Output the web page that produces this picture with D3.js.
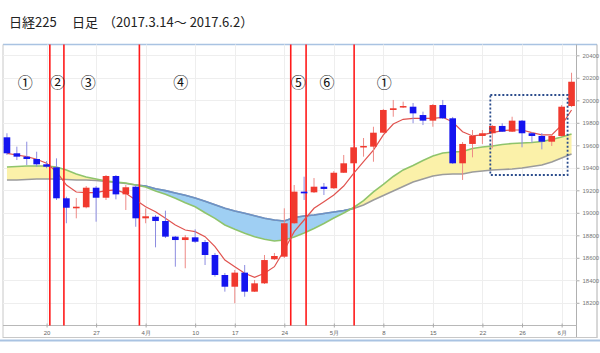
<!DOCTYPE html>
<html>
<head>
<meta charset="utf-8">
<script src="https://cdn.jsdelivr.net/npm/d3@7"></script>
<style>
  body { margin: 0; background: #fff; }
  svg { display: block; font-family: "Noto Sans CJK JP", "Noto Sans", sans-serif; }
</style>
</head>
<body>
<div id="chart"></div>
<script>
var chart_width = 600;
var chart_height = 353;

// daily candles, left to right
var opens  = [19671,19529,19499,19478,19431,19404,19129,19040,19049,19223,19134,19327,19164,19232,18951,18965,18927,18788,18758,18782,
              18740,18625,18447,18343,18468,18299,18373,18587,18610,18907,19188,19182,19232,19218,19356,19440,19582,19588,19712,19914,
              19938,19943,19869,19819,19958,19840,19440,19612,19683,19707,19772,19721,19819,19707,19683,19632,19683,19949];
var highs  = [19707,19588,19632,19543,19460,19484,19143,19132,19238,19238,19336,19336,19247,19247,19040,18980,19019,18794,18803,18853,
              18758,18643,18465,18492,18536,18403,18625,18643,19040,19247,19321,19309,19265,19371,19514,19620,19665,19765,19923,20003,
              19988,19976,19899,19967,20003,19852,19629,19736,19736,19780,19796,19854,19825,19718,19709,19700,19958,20245];
var lows   = [19514,19469,19425,19410,19396,19114,18907,18951,19040,18921,19114,19120,19025,18876,18907,18693,18776,18521,18507,18732,
              18536,18432,18299,18196,18254,18296,18367,18580,18598,18900,19114,19176,19158,19212,19354,19434,19499,19454,19709,19854,
              19932,19796,19780,19765,19834,19434,19292,19493,19612,19573,19718,19718,19582,19623,19564,19594,19674,19940];
var closes = [19529,19499,19478,19431,19410,19129,19045,19054,19223,19134,19327,19164,19227,18951,18969,18927,18788,18758,18782,18743,
              18625,18447,18343,18468,18299,18373,18580,18616,18907,19188,19173,19232,19212,19356,19440,19582,19594,19712,19914,19929,
              19949,19884,19819,19958,19840,19440,19612,19683,19707,19772,19721,19819,19707,19683,19632,19683,19943,20165];

// short average (red), middle (green), long (gray)
var maShort = [19529,19514,19499,19476,19440,19365,19247,19185,19179,19179,19197,19203,19173,19114,19054,19010,18951,18892,18847,18832,
               18788,18699,18580,18521,18462,18427,18462,18521,18669,18832,18936,19040,19099,19158,19238,19351,19454,19558,19692,19789,
               19831,19840,19840,19840,19849,19807,19721,19683,19692,19712,19730,19736,19736,19712,19692,19692,19780,19914];
var maMid   = [19407,19412,19416,19416,19416,19407,19381,19345,19318,19301,19283,19274,19265,19247,19229,19194,19165,19129,19090,19054,
               19001,18951,18892,18853,18818,18788,18765,18749,18758,18785,18820,18860,18905,18954,18998,19047,19109,19185,19252,19323,
               19381,19420,19465,19505,19532,19540,19545,19572,19585,19594,19607,19616,19620,19625,19634,19652,19674,19700];
var maLong  = [19292,19292,19296,19301,19301,19301,19296,19292,19292,19287,19278,19269,19260,19247,19238,19214,19197,19176,19156,19132,
               19102,19072,19040,19016,18996,18974,18951,18936,18927,18958,18972,18981,18994,19007,19021,19038,19069,19114,19154,19194,
               19234,19274,19301,19327,19341,19345,19345,19363,19372,19381,19385,19389,19398,19412,19425,19452,19487,19523];

var tickIndex  = [4, 9, 14, 19, 23, 28, 33, 38, 43, 48, 52, 56];
var tickLabels = ['20', '27', '4月', '10', '17', '24', '5月', '8', '15', '22', '26', '6月'];
var yTicks = [18200, 18400, 18600, 18800, 19000, 19200, 19400, 19600, 19800, 20000, 20200, 20400];

// phase markers (candle index positions)
var phaseLines  = [4.33, 5.75, 13.37, 28.65, 30.2, 35.05];
var phaseAt     = [1.85, 5.1, 8.2, 17.55, 29.4, 32.3, 38.1];
var phaseLabels = ['①', '②', '③', '④', '⑤', '⑥', '①'];
var boxIdx = [48.8, 56.6];
var boxVal = [20047, 19336];

var idx = d3.range(opens.length);

var svg = d3.select('#chart')
            .append('svg')
            .attr('width', chart_width)
            .attr('height', chart_height);

var plot_left = 3, plot_right = 576.5, plot_top = 44.5, plot_bottom = 325.5;

var x_scale = d3.scaleBand()
                .domain(idx)
                .range([2, plot_right])
                .paddingInner(0.33)
                .paddingOuter(0.165);

var x_mid = d3.scaleLinear()
              .domain([0, idx.length - 1])
              .range([x_scale(0) + x_scale.bandwidth() / 2, x_scale(idx.length - 1) + x_scale.bandwidth() / 2]);

var y_scale = d3.scaleLinear()
                .domain([18200, 20000])
                .range([302.8, 100.3]);

// title
var title = svg.append('g').attr('font-size', 13).attr('fill', '#222');
title.append('text').attr('x', 9).attr('y', 27).text('日経225');
title.append('text').attr('x', 72).attr('y', 27).text('日足');
title.append('text').attr('x', 103).attr('y', 27).text('（2017.3.14～ 2017.6.2）');

// frame
svg.append('line').attr('x1', plot_left).attr('x2', 597).attr('y1', plot_top).attr('y2', plot_top)
   .attr('stroke', '#a9c3e2').attr('stroke-width', 1.5);
svg.append('line').attr('x1', plot_left).attr('x2', plot_left).attr('y1', plot_top).attr('y2', 338)
   .attr('stroke', '#c8c8c8');
svg.append('line').attr('x1', plot_right).attr('x2', plot_right).attr('y1', plot_top).attr('y2', 338)
   .attr('stroke', '#b0b0b0');
svg.append('line').attr('x1', 597).attr('x2', 597).attr('y1', plot_top).attr('y2', 338)
   .attr('stroke', '#b0b0b0');
svg.append('line').attr('x1', plot_left).attr('x2', 597).attr('y1', 337.5).attr('y2', 337.5)
   .attr('stroke', '#c8c8c8');
svg.append('line').attr('x1', 0).attr('x2', 600).attr('y1', 340.5).attr('y2', 340.5)
   .attr('stroke', '#a9c3e2').attr('stroke-width', 2);

// grid
svg.append('g')
   .selectAll('line')
   .data(yTicks)
   .enter()
   .append('line')
   .attr('x1', plot_left).attr('x2', plot_right)
   .attr('y1', (d) => Math.round(y_scale(d)) + 0.5)
   .attr('y2', (d) => Math.round(y_scale(d)) + 0.5)
   .attr('stroke', '#eeeeee');

svg.append('g')
   .selectAll('line')
   .data(tickIndex)
   .enter()
   .append('line')
   .attr('x1', (d) => Math.round(x_mid(d)) + 0.5)
   .attr('x2', (d) => Math.round(x_mid(d)) + 0.5)
   .attr('y1', plot_top).attr('y2', plot_bottom)
   .attr('stroke', '#eeeeee');

// right axis
var y_axis = d3.axisRight(y_scale)
               .tickValues(yTicks)
               .tickSize(3)
               .tickPadding(3)
               .tickFormat(d3.format('d'));
var ya = svg.append('g')
            .attr('transform', 'translate(' + plot_right + ',0)')
            .call(y_axis);
ya.select('.domain').remove();
ya.selectAll('line').attr('stroke', '#aaa');
ya.selectAll('text').attr('font-size', 6).attr('fill', '#777').attr('font-family', 'Arial, "Liberation Sans", sans-serif');

// bottom axis
var x_axis = d3.axisBottom(x_mid)
               .tickValues(tickIndex)
               .tickSize(3)
               .tickPadding(2)
               .tickFormat((d, i) => tickLabels[i]);
var xa = svg.append('g')
            .attr('transform', 'translate(0,' + plot_bottom + ')')
            .call(x_axis);
xa.select('.domain').attr('d', 'M' + plot_left + ',0H' + plot_right).attr('stroke', '#b8b8b8');
xa.selectAll('.tick line').attr('stroke', '#aaa').attr('y1', -2).attr('y2', 2);
xa.selectAll('text').attr('font-size', 6).attr('fill', '#666');

// cloud between middle and long averages
var area_up = d3.area()
                .x((d) => x_mid(d))
                .y0((d) => y_scale(maLong[d]))
                .y1((d) => y_scale(Math.max(maMid[d], maLong[d])));
var area_down = d3.area()
                  .x((d) => x_mid(d))
                  .y0((d) => y_scale(maMid[d]))
                  .y1((d) => y_scale(Math.max(maMid[d], maLong[d])));

svg.append('path').datum(idx).attr('d', area_up).attr('fill', '#fbf1a9');
svg.append('path').datum(idx).attr('d', area_down).attr('fill', '#9fcff3');

var line_of = (arr) => d3.line().x((d) => x_mid(d)).y((d) => y_scale(arr[d]));

svg.append('path').datum(idx).attr('d', line_of(maLong))
   .attr('fill', 'none').attr('stroke', '#9c9c9c').attr('stroke-width', 1.6);
svg.append('path').datum(idx.filter((d) => d >= 13 && d <= 35)).attr('d', line_of(maLong))
   .attr('fill', 'none').attr('stroke', '#6b92c8').attr('stroke-width', 1.6);
svg.append('path').datum(idx).attr('d', line_of(maMid))
   .attr('fill', 'none').attr('stroke', '#8fc46c').attr('stroke-width', 1.6);

// phase lines
svg.append('g')
   .selectAll('line')
   .data(phaseLines)
   .enter()
   .append('line')
   .attr('x1', (d) => x_mid(d)).attr('x2', (d) => x_mid(d))
   .attr('y1', plot_top).attr('y2', plot_bottom)
   .attr('stroke', '#ff1a1a').attr('stroke-width', 1.6);

// short average
svg.append('path').datum(idx).attr('d', line_of(maShort))
   .attr('fill', 'none').attr('stroke', '#e0534f').attr('stroke-width', 1.2);

// candles
var up = (d) => closes[d] >= opens[d];

svg.append('g')
   .selectAll('line')
   .data(idx)
   .enter()
   .append('line')
   .attr('x1', (d) => x_mid(d)).attr('x2', (d) => x_mid(d))
   .attr('y1', (d) => y_scale(highs[d]))
   .attr('y2', (d) => y_scale(lows[d]))
   .attr('stroke', (d) => up(d) ? '#ee8a86' : '#8c8ce0')
   .attr('stroke-width', 1);

svg.append('g')
   .selectAll('rect')
   .data(idx)
   .enter()
   .append('rect')
   .attr('x', (d) => x_scale(d))
   .attr('width', x_scale.bandwidth())
   .attr('y', (d) => y_scale(Math.max(opens[d], closes[d])))
   .attr('height', (d) => Math.max(1.5, Math.abs(y_scale(opens[d]) - y_scale(closes[d]))))
   .attr('fill', (d) => up(d) ? '#f0392e' : '#1414f0');

// dotted box
svg.append('rect')
   .attr('x', x_mid(boxIdx[0]))
   .attr('y', y_scale(boxVal[0]))
   .attr('width', x_mid(boxIdx[1]) - x_mid(boxIdx[0]))
   .attr('height', y_scale(boxVal[1]) - y_scale(boxVal[0]))
   .attr('fill', 'none')
   .attr('stroke', '#2b4c8c')
   .attr('stroke-width', 1.8)
   .attr('stroke-dasharray', '2,2');

// phase labels
svg.append('g')
   .selectAll('text')
   .data(phaseLabels)
   .enter()
   .append('text')
   .text((d) => d)
   .attr('x', (d, i) => x_mid(phaseAt[i]))
   .attr('y', 88)
   .attr('text-anchor', 'middle')
   .attr('font-size', 15)
   .attr('fill', '#111');
</script>
</body>
</html>
